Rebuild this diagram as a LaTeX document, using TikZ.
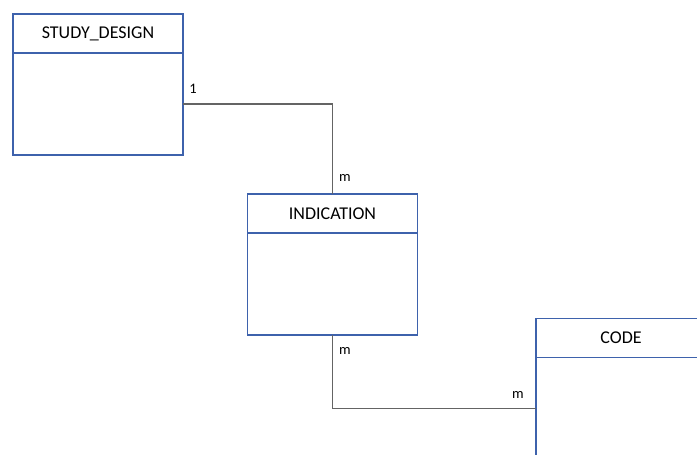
\documentclass[tikz,border=0pt]{standalone}
\usepackage{fontspec}
\setmainfont{Carlito}
\usetikzlibrary{positioning}

\definecolor{entblue}{RGB}{62,98,172}
\definecolor{linkgray}{RGB}{100,100,100}

\begin{document}
\begin{tikzpicture}[x=1pt, y=-1pt, thick]

		\tikzstyle{head}=[rectangle, draw=entblue, line width=1.3pt, fill=white, text=black, minimum width=170pt, minimum height=39pt, inner sep=0pt, outer sep=0pt, font=\fontsize{18}{21}\selectfont]
		\tikzstyle{body}=[rectangle, draw=entblue, line width=1.3pt, fill=white, minimum width=170pt, minimum height=102pt, inner sep=0pt, outer sep=0pt]
		\tikzstyle{link}=[draw=linkgray, line width=1.1pt]
		\tikzstyle{card}=[text=black, inner sep=0pt, font=\fontsize{14.5}{17}\selectfont]

		\useasboundingbox (0,0) rectangle (697,455);
		\clip (0,0) rectangle (697,455);

		% Entities
		\node[head] (sdh) at (98,33.5) {STUDY\_DESIGN};
		\node[body, below=0pt of sdh] (sdb) {};

		\node[head] (indh) at (332.5,213.5) {INDICATION};
		\node[body, below=0pt of indh] (indb) {};

		\node[head] (codeh) at (621,338) {CODE};
		\node[body, below=0pt of codeh] (codeb) {};

		% Relations
		\draw[link] (sdb.east) -| (indh.north);
		\draw[link] (indb.south) |- (codeb.west);

		\node[card] (c1) at (193,89)  {1};
		\node[card] (c2) at (345,178) {m};
		\node[card] (c3) at (345,351) {m};
		\node[card] (c4) at (518,395) {m};

\end{tikzpicture}
\end{document}
